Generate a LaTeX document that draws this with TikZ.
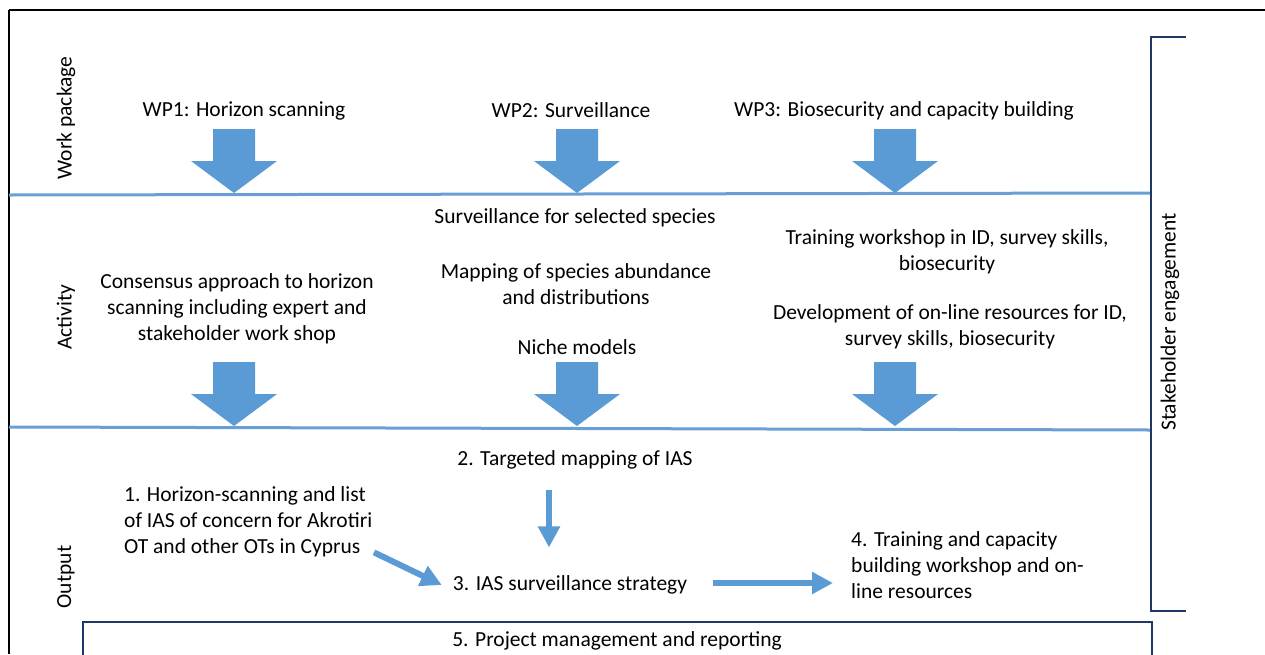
\documentclass[tikz,border=0pt]{standalone}
\usepackage{fontspec}
\setmainfont{Carlito}
\usetikzlibrary{arrows.meta,calc}
\definecolor{arrowblue}{HTML}{5B9BD5}
\definecolor{lineblue}{HTML}{6A9FD6}
\definecolor{navy}{HTML}{203864}
\begin{document}
\begin{tikzpicture}[x=1pt,y=-1pt,
  txt/.style={inner sep=0pt,font=\fontsize{21.5}{26}\selectfont,align=center},
  ltxt/.style={inner sep=0pt,font=\fontsize{21.5}{26}\selectfont,align=left},
  sep/.style={draw=lineblue,line width=3pt},
  frame/.style={draw=black,line width=2pt},
  brk/.style={draw=navy,line width=1.6pt},
  thinarrow/.style={draw=arrowblue,line width=6pt,-{Triangle[width=21pt,length=21pt]}},
  bigarrow/.pic={\fill[arrowblue] (-21,0) -- (21,0) -- (21,32) -- (43,32) -- (0,64) -- (-43,32) -- (-21,32) -- cycle;}
]
\useasboundingbox (0,0) rectangle (1265,654);
\fill[white] (0,0) rectangle (1265,654);
% outer frame
\draw[frame] (9,10) -- (1265,10);
\draw[frame] (9,10) -- (9,654);
% separators
\draw[sep] (9,195) -- (1151,193);
\draw[sep] (9,427) -- (1151,430);
% stakeholder bracket
\draw[brk] (1186,37) -- (1151,37) -- (1151,611) -- (1186,611);
% bottom box
\draw[brk] (83,660) -- (83,622) -- (1152,622) -- (1152,660);
% row labels
\node[txt,rotate=90] (lwp) at (66,118) {Work package};
\node[txt,rotate=90] (lact) at (66,317) {Activity};
\node[txt,rotate=90] (lout) at (66,577) {Output};
\node[txt,rotate=90] (lstk) at (1170,322) {Stakeholder engagement};
% work packages
\node[txt] (wp1) at (244,111) {WP1: Horizon scanning};
\node[txt] (wp2) at (571,110) {WP2: Surveillance};
\node[txt] (wp3) at (904,111) {WP3: Biosecurity and capacity building};
% big arrows
\foreach \cx in {234,577,895} {
  \pic at (\cx,129) {bigarrow};
  \pic at (\cx,362) {bigarrow};
}
% activities
\node[txt] (a1) at (237,309) {Consensus approach to horizon\\scanning including expert and\\stakeholder work shop};
\node[txt] (a2a) at (575,218) {Surveillance for selected species};
\node[txt] (a2b) at (576,284) {Mapping of species abundance\\and distributions};
\node[txt] (a2c) at (577,347) {Niche models};
\node[txt] (a3a) at (947,252) {Training workshop in ID, survey skills,\\biosecurity};
\node[txt] (a3b) at (950,327) {Development of on-line resources for ID,\\survey skills, biosecurity};
% outputs
\node[txt] (o2) at (575,460) {2. Targeted mapping of IAS};
\node[ltxt,anchor=west] (o1) at (124,522) {1. Horizon-scanning and list\\of IAS of concern for Akrotiri\\OT and other OTs in Cyprus};
\node[txt] (o3) at (570,585) {3. IAS surveillance strategy};
\node[ltxt,anchor=west] (o4) at (851,565) {4. Training and capacity\\building workshop and on-\\line resources};
\node[txt] (o5) at (617,641) {5. Project management and reporting};
% thin arrows
\draw[thinarrow] ([shift={(-26,20)}]o2.south) -- ([shift={(-21,-28)}]o3.north);
\draw[thinarrow] ([shift={(250,-5)}]o1.south west) -- ([shift={(-11,0)}]o3.west);
\draw[thinarrow] ([shift={(26,-2)}]o3.east) -- ([shift={(-18,-2)}]o4.west |- o3.east);
\end{tikzpicture}
\end{document}
